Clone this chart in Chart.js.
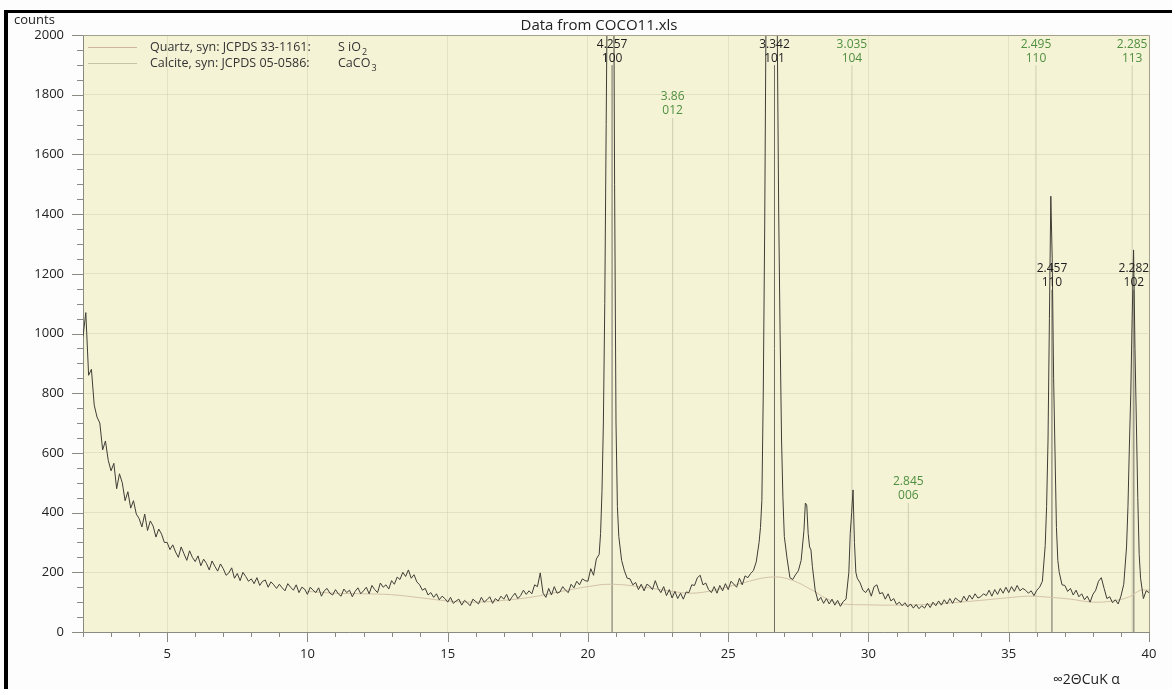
<!DOCTYPE html>
<html>
<head>
<meta charset="utf-8">
<script src="https://cdn.jsdelivr.net/npm/chart.js@4.4.1/dist/chart.umd.min.js"></script>
<style>
  html, body { margin: 0; padding: 0; background: #fdfdfd; }
  #wrap { width: 1172px; height: 689px; }
</style>
</head>
<body>
<div id="wrap"><canvas id="xrdChart" width="1172" height="689"></canvas></div>
<script>
// Scan: 2θ from 2.0 to 40.0, every 0.1°
const scanStart = 2.0;
const scanStep = 0.1;
const scanCounts = [
    990, 1070, 860, 880, 760, 720, 700, 610, 640, 575,   // 2
    540, 565, 480, 530, 500, 440, 470, 415, 440, 395,    // 3
    380, 352, 395, 340, 372, 355, 318, 345, 328, 300,    // 4
    300, 276, 292, 268, 250, 285, 262, 240, 272, 250,    // 5
    236, 255, 222, 244, 230, 208, 238, 220, 204, 228,    // 6
    212, 190, 198, 215, 180, 196, 172, 200, 186, 170,    // 7
    178, 162, 182, 156, 170, 174, 150, 168, 158, 146,    // 8
    160, 148, 138, 162, 150, 140, 158, 132, 150, 144,    // 9
    126, 150, 140, 132, 148, 120, 138, 146, 130, 124,    // 10
    142, 128, 120, 144, 132, 140, 118, 136, 148, 128,    // 11
    138, 150, 128, 156, 142, 132, 164, 150, 158, 144,    // 12
    172, 160, 184, 176, 200, 186, 208, 180, 192, 168,    // 13
    158, 140, 146, 124, 132, 116, 128, 108, 120, 112,    // 14
    100, 116, 96, 104, 110, 90, 106, 98, 88, 110,        // 15
    102, 94, 116, 100, 108, 118, 96, 112, 104, 120,      // 16
    110, 126, 104, 118, 130, 112, 122, 140, 126, 138,    // 17
    128, 158, 152, 198, 130, 116, 146, 124, 152, 130,    // 18
    134, 152, 140, 132, 160, 148, 170, 158, 178, 172,    // 19
    170, 212, 190, 245, 260, 470, 1100, 2300, 2900, 2600, // 20
    700, 320, 240, 205, 180, 178, 158, 166, 142, 160,    // 21
    138, 160, 154, 142, 172, 146, 132, 152, 122, 142,    // 22
    114, 136, 112, 130, 110, 134, 132, 158, 156, 182,    // 23
    190, 158, 164, 142, 132, 152, 130, 156, 138, 162,    // 24
    142, 170, 160, 150, 180, 158, 188, 182, 196, 206,    // 25
    235, 300, 440, 1350, 2600, 2800, 2900, 2500, 1400, 650, // 26
    320, 245, 182, 176, 192, 205, 240, 340, 425, 285,    // 27
    220, 140, 104, 116, 96, 112, 94, 110, 90, 106,       // 28
    86, 102, 110, 200, 400, 300, 180, 165, 140, 132,     // 29
    146, 120, 152, 158, 128, 132, 110, 128, 104, 112,    // 30
    92, 100, 88, 98, 84, 94, 80, 92, 78, 88,             // 31
    80, 96, 82, 100, 88, 104, 90, 108, 94, 112,          // 32
    96, 114, 106, 100, 120, 104, 124, 110, 128, 114,     // 33
    118, 128, 122, 140, 120, 142, 126, 146, 130, 150,    // 34
    132, 152, 136, 156, 138, 146, 140, 130, 138, 122,    // 35
    140, 150, 170, 290, 640, 1460, 850, 350, 200, 158,   // 36
    156, 136, 146, 124, 140, 118, 128, 108, 120, 100,    // 37
    126, 140, 170, 182, 146, 112, 118, 98, 108, 94,      // 38
    120, 160, 285, 620, 1050, 950, 450, 180, 112, 138,   // 39
    132                                                  // 40
];

// extra points on the sharp peaks
const peakAngles = [20.45, 20.55, 20.65, 20.75, 20.85, 20.95, 21.05,
    26.15, 26.25, 26.35, 26.45, 26.55, 26.65, 26.75, 26.85, 26.95,
    27.75, 27.85, 27.95, 29.35, 29.45, 29.55,
    36.35, 36.45, 36.55, 36.65, 36.75, 39.25, 39.35, 39.45, 39.55, 39.65];
const peakCounts = [330, 700, 1700, 2800, 2950, 1500, 420,
    350, 800, 2100, 2700, 2850, 2800, 2000, 1000, 450,
    432, 330, 275, 330, 476, 200,
    420, 1050, 1250, 600, 240, 420, 800, 1280, 700, 260];

// fitted background
const backgroundAngles = [10, 11, 12, 13, 14, 15, 16, 17, 18, 19, 20, 20.8, 22, 23, 23.7, 24.5, 25.5, 26.5,
    27.2, 28, 28.5, 29, 30, 31, 32, 33, 34, 35, 35.7, 36.5, 37.2, 38, 38.7, 39.3, 39.7, 40];
const backgroundCounts = [136, 130, 128, 125, 115, 104, 100, 106, 117, 135, 152, 160, 150, 136, 130, 140, 164, 184,
    176, 140, 112, 95, 91, 90, 92, 98, 106, 115, 120, 116, 110, 100, 104, 118, 140, 140];

// reference patterns
const quartzAngles = [20.86, 26.65, 36.54, 39.46];
const quartzHeights = [1899, 1899, 1146, 1146];
const quartzSpacings = ['4.257', '3.342', '2.457', '2.282'];
const quartzHkl = ['100', '101', '110', '102'];

const calciteAngles = [23.02, 29.41, 31.42, 35.97, 39.40];
const calciteHeights = [1722, 1899, 432, 1899, 1899];
const calciteSpacings = ['3.86', '3.035', '2.845', '2.495', '2.285'];
const calciteHkl = ['012', '104', '006', '110', '113'];

const FONT = '"Open Sans", "DejaVu Sans", sans-serif';

function buildScan() {
    const pts = scanCounts.map((c, i) => ({ x: +(scanStart + i * scanStep).toFixed(2), y: c }));
    peakAngles.forEach((a, i) => pts.push({ x: a, y: peakCounts[i] }));
    pts.sort((a, b) => a.x - b.x);
    return pts;
}

function stickPoints(angles, heights) {
    const pts = [];
    angles.forEach((a, i) => {
        pts.push({ x: a, y: 0 }, { x: a, y: heights[i] }, { x: a, y: null });
    });
    return pts;
}

// фон, рамка, подписи
const decorPlugin = {
    id: 'decor',
    beforeDraw(chart) {
        const { ctx, chartArea: a } = chart;
        ctx.save();
        ctx.fillStyle = '#fdfdfd';
        ctx.fillRect(0, 0, chart.width, chart.height);
        ctx.fillStyle = '#f5f3d6';
        ctx.fillRect(a.left, a.top, a.right - a.left, a.bottom - a.top);
        ctx.restore();
    },
    afterDatasetsDraw(chart) {
        const { ctx, chartArea: a, scales: { x, y } } = chart;
        ctx.save();

        // plot border top / right
        ctx.strokeStyle = '#a3a18c';
        ctx.lineWidth = 1;
        ctx.beginPath();
        ctx.moveTo(a.left, a.top + 0.5);
        ctx.lineTo(a.right + 0.5, a.top + 0.5);
        ctx.lineTo(a.right + 0.5, a.bottom);
        ctx.stroke();

        // major / minor ticks
        ctx.strokeStyle = '#8a8a80';
        ctx.beginPath();
        for (let v = 2; v <= 40; v++) {
            const px = Math.round(x.getPixelForValue(v)) + 0.5;
            const len = v % 5 === 0 ? 10 : 5;
            ctx.moveTo(px, a.bottom);
            ctx.lineTo(px, a.bottom + len);
        }
        for (let v = 0; v <= 2000; v += 50) {
            const py = Math.round(y.getPixelForValue(v)) + 0.5;
            const len = v % 200 === 0 ? 11 : 6;
            ctx.moveTo(a.left - len, py);
            ctx.lineTo(a.left, py);
        }
        ctx.stroke();

        // stick labels
        ctx.font = '12px ' + FONT;
        ctx.textAlign = 'center';
        ctx.textBaseline = 'middle';
        const drawLabels = (angles, heights, spacings, hkl, color) => {
            ctx.fillStyle = color;
            angles.forEach((ang, i) => {
                const px = x.getPixelForValue(ang);
                const py = y.getPixelForValue(heights[i]);
                ctx.fillText(spacings[i], px, py - 21);
                ctx.fillText(hkl[i], px, py - 7);
            });
        };
        drawLabels(quartzAngles, quartzHeights, quartzSpacings, quartzHkl, '#1e1e1e');
        drawLabels(calciteAngles, calciteHeights, calciteSpacings, calciteHkl, '#4f8f3f');

        // legend
        ctx.textAlign = 'left';
        const rows = [
            { y: 47, color: '#cdb59c', name: 'Quartz, syn: JCPDS 33-1161:', formula: ['S iO', '2'] },
            { y: 63, color: '#c9c4a6', name: 'Calcite, syn: JCPDS 05-0586:', formula: ['CaCO', '3'] }
        ];
        rows.forEach(r => {
            ctx.strokeStyle = r.color;
            ctx.beginPath();
            ctx.moveTo(88, r.y + 0.5);
            ctx.lineTo(137, r.y + 0.5);
            ctx.stroke();
            ctx.fillStyle = '#333';
            ctx.font = '12.5px ' + FONT;
            ctx.fillText(r.name, 150, r.y);
            ctx.fillText(r.formula[0], 338, r.y);
            const w = ctx.measureText(r.formula[0]).width;
            ctx.font = '9px ' + FONT;
            ctx.fillText(r.formula[1], 338 + w + 1, r.y + 5);
        });

        ctx.restore();
    },
    afterDraw(chart) {
        const { ctx } = chart;
        ctx.save();
        ctx.fillStyle = '#222';
        ctx.textBaseline = 'middle';
        ctx.font = '13px ' + FONT;
        ctx.textAlign = 'left';
        ctx.fillText('counts', 14, 20);
        ctx.font = '14px ' + FONT;
        ctx.fillText('∞2ΘCuK α', 1053, 680);
        ctx.font = '15px ' + FONT;
        ctx.textAlign = 'center';
        ctx.fillText('Data from COCO11.xls', 599, 26);

        // black frame
        ctx.fillStyle = '#000';
        ctx.fillRect(4, 10, 4, 679);
        ctx.fillRect(4, 10, 1168, 3);
        ctx.restore();
    }
};

function initXrdChart() {
    const ctx = document.getElementById('xrdChart').getContext('2d');

    new Chart(ctx, {
        type: 'line',
        data: {
            datasets: [
                {
                    label: 'COCO11',
                    data: buildScan(),
                    borderColor: '#3e3e36',
                    borderWidth: 1,
                    pointRadius: 0,
                    tension: 0
                },
                {
                    label: 'Background',
                    data: backgroundAngles.map((a, i) => ({ x: a, y: backgroundCounts[i] })),
                    borderColor: '#d3c2a8',
                    borderWidth: 1,
                    pointRadius: 0,
                    tension: 0.4
                },
                {
                    label: 'Quartz',
                    data: stickPoints(quartzAngles, quartzHeights),
                    borderColor: '#6e6c60',
                    borderWidth: 1,
                    pointRadius: 0,
                    spanGaps: false
                },
                {
                    label: 'Calcite',
                    data: stickPoints(calciteAngles, calciteHeights),
                    borderColor: '#cfcbb0',
                    borderWidth: 1,
                    pointRadius: 0,
                    spanGaps: false
                }
            ]
        },
        options: {
            responsive: false,
            animation: false,
            events: [],
            layout: { padding: { top: 35, right: 23, bottom: 0, left: 0 } },
            plugins: {
                legend: { display: false },
                tooltip: { enabled: false }
            },
            scales: {
                x: {
                    type: 'linear',
                    min: 2,
                    max: 40,
                    afterBuildTicks: s => { s.ticks = s.ticks.filter(t => t.value % 5 === 0); },
                    afterFit: s => { s.height = 57; },
                    ticks: {
                        stepSize: 5,
                        padding: 4,
                        maxRotation: 0,
                        color: '#222',
                        font: { family: FONT, size: 13 },
                        callback: v => String(v)
                    },
                    grid: { color: 'rgba(205,203,170,0.45)', tickLength: 10, tickColor: 'rgba(0,0,0,0)' },
                    border: { color: '#8a8a80' }
                },
                y: {
                    min: 0,
                    max: 2000,
                    afterFit: s => { s.width = 83; },
                    ticks: {
                        stepSize: 200,
                        padding: 8,
                        color: '#222',
                        font: { family: FONT, size: 13 },
                        callback: v => String(v)
                    },
                    grid: { color: 'rgba(205,203,170,0.45)', tickLength: 11, tickColor: 'rgba(0,0,0,0)' },
                    border: { color: '#8a8a80' }
                }
            }
        },
        plugins: [decorPlugin]
    });
}

document.addEventListener('DOMContentLoaded', () => {
    initXrdChart();
});
</script>
</body>
</html>
